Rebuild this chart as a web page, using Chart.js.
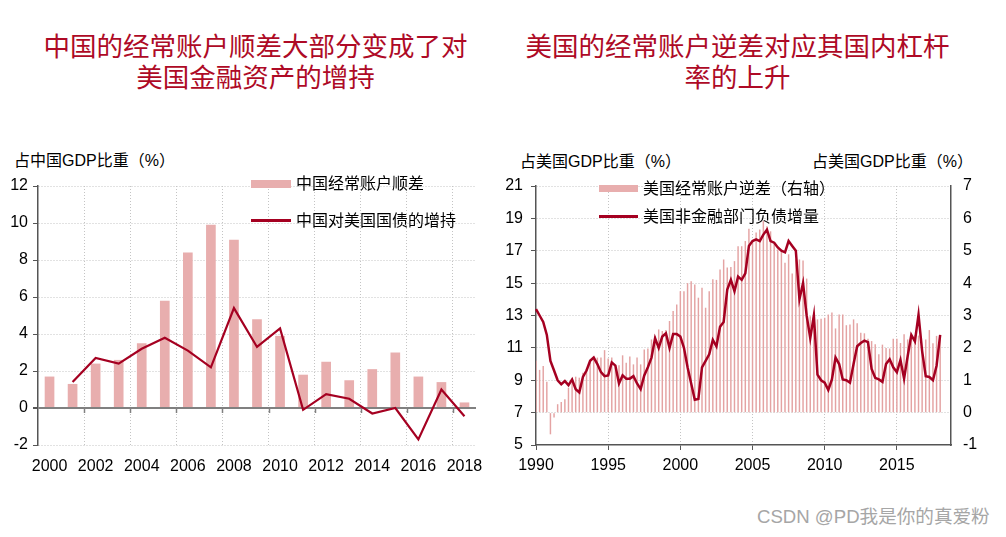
<!DOCTYPE html>
<html>
<head>
<meta charset="utf-8">
<script src="https://cdn.jsdelivr.net/npm/chart.js@4.4.0/dist/chart.umd.min.js"></script>
<style>
    body { margin: 0; width: 1006px; height: 537px; background: #fff; position: relative; overflow: hidden;
           font-family: "Liberation Sans", "Noto Sans CJK SC", sans-serif; color: #000; }
    .abs { position: absolute; white-space: nowrap; }
    .title { color: #ae0a26; font-family: "Noto Sans CJK SC", sans-serif; font-size: 26.5px; line-height: 31px; text-align: center; }
    .unit { font-size: 16px; line-height: 20px; }
    .legend { font-size: 16px; line-height: 20px; }
    .swatch-bar { background: #e8aeae; }
    .swatch-line { background: #a50021; }
    canvas { position: absolute; }
</style>
</head>
<body>
<div class="abs title" style="left:0;width:511px;top:29px;">中国的经常账户顺差大部分变成了对<br>美国金融资产的增持</div>
<div class="abs title" style="left:469px;width:537px;top:29px;">美国的经常账户逆差对应其国内杠杆<br>率的上升</div>

<div class="abs unit" style="left:14px;top:151px;">占中国GDP比重（%）</div>
<div class="abs unit" style="left:520px;top:152px;">占美国GDP比重（%）</div>
<div class="abs unit" style="left:812px;top:152px;">占美国GDP比重（%）</div>

<canvas id="cnChart" width="500" height="340" style="left:0;top:150px;"></canvas>
<canvas id="usChart" width="506" height="340" style="left:500px;top:150px;"></canvas>

<div class="abs swatch-bar" style="left:251px;top:180px;width:40px;height:8px;"></div>
<div class="abs legend" style="left:296px;top:174px;">中国经常账户顺差</div>
<div class="abs swatch-line" style="left:251px;top:219px;width:40px;height:2.5px;"></div>
<div class="abs legend" style="left:296px;top:211px;">中国对美国国债的增持</div>

<div class="abs swatch-bar" style="left:599px;top:185px;width:39px;height:7px;"></div>
<div class="abs legend" style="left:643px;top:179px;">美国经常账户逆差（右轴）</div>
<div class="abs swatch-line" style="left:599px;top:215px;width:39px;height:2.5px;"></div>
<div class="abs legend" style="left:643px;top:207px;">美国非金融部门负债增量</div>

<div class="abs" style="left:757px;top:505px;font-size:18.6px;line-height:24px;color:#a6a6a6;">CSDN @PD我是你的真爱粉</div>

<script>
// ---- left chart data: China, % of China GDP ----
const cnYears = ['2000', '2001', '2002', '2003', '2004', '2005', '2006', '2007', '2008', '2009',
                 '2010', '2011', '2012', '2013', '2014', '2015', '2016', '2017', '2018'];
const cnCurrentAccount = [1.7, 1.3, 2.4, 2.6, 3.5, 5.8, 8.4, 9.9, 9.1, 4.8,
                          3.9, 1.8, 2.5, 1.5, 2.1, 3.0, 1.7, 1.4, 0.3];
const cnTreasuryIncrease = [null, 1.4, 2.7, 2.4, 3.2, 3.8, 3.1, 2.2, 5.4, 3.3,
                            4.3, -0.1, 0.75, 0.5, -0.3, 0.0, -1.7, 1.0, -0.45];

// ---- right chart data: US, quarterly from 1990Q1, % of US GDP ----
const usFirstYear = 1990;
const usLastYear = 2018;
const usCurrentAccountDeficit = [
    1.6, 1.32, 1.44, 0.95, -0.67, -0.15, 0.26, 0.33, 0.41, 0.77,
    0.93, 1.11, 1.08, 1.23, 1.34, 1.54, 1.65, 1.7, 1.7, 1.93,
    1.67, 1.7, 1.39, 1.46, 1.77, 1.54, 1.73, 1.49, 1.7, 1.49,
    1.95, 1.98, 2.26, 2.37, 2.57, 2.52, 2.55, 2.83, 3.14, 3.34,
    3.75, 3.75, 4.0, 4.06, 3.96, 3.55, 3.86, 3.24, 3.75, 4.12,
    4.1, 4.42, 4.73, 4.48, 4.5, 4.68, 5.14, 5.14, 5.3, 5.68,
    5.3, 5.56, 5.66, 5.92, 5.76, 5.6, 5.2, 5.04, 4.99, 4.63,
    4.89, 4.3, 4.73, 4.73, 4.7, 4.14, 2.98, 2.73, 2.88, 2.9,
    2.93, 3.03, 3.09, 2.6, 3.03, 3.03, 2.7, 2.72, 2.88, 2.76,
    2.47, 2.45, 2.28, 2.21, 2.11, 1.8, 2.1, 2.0, 1.98, 2.28,
    2.28, 2.15, 2.42, 2.26, 2.37, 2.39, 2.38, 2.0, 2.26, 2.55,
    2.14, 2.37, 2.4
];
const usNonfinDebtIncrease = [
    13.4, 13.0, 12.6, 11.8, 10.2, 9.6, 9.0, 8.75, 8.95, 8.7,
    9.05, 8.45, 8.25, 9.2, 9.6, 10.2, 10.4, 10.0, 9.5, 9.25,
    9.3, 10.1, 9.9, 8.8, 9.3, 9.1, 9.1, 9.25, 8.8, 8.45,
    9.3, 9.8, 10.4, 11.6, 11.0, 11.7, 11.9, 11.0, 11.85, 11.85,
    11.7, 11.0, 9.8, 8.8, 7.8, 7.85, 9.8, 10.2, 10.6, 11.5,
    11.1, 12.3, 12.6, 14.6, 15.2, 14.5, 15.4, 15.2, 15.6, 17.3,
    17.6, 17.7, 17.6, 18.0, 18.3, 17.6, 17.5, 17.2, 17.0, 16.9,
    17.6, 17.3, 17.0, 14.0, 15.0, 13.0, 11.6, 13.0, 9.35, 9.0,
    8.85, 8.4, 9.05, 10.4, 10.0, 9.05, 9.0, 8.85, 10.0, 11.1,
    11.3, 11.45, 11.35, 9.7, 9.15, 9.05, 8.9, 10.0, 10.3, 9.8,
    9.5, 10.25, 9.1, 10.5, 11.8, 11.4, 13.05, 10.8, 9.25, 9.2,
    9.0, 9.9, 11.8
];

// quarter labels for the category axis
const usQuarters = [];
for (let y = usFirstYear; y <= usLastYear; y++) {
    for (let q = 1; q <= 4; q++) usQuarters.push(y + 'Q' + q);
}

const barColor = '#e8aeae';
const lineColor = '#a50021';
const gridColor = '#c4c4c4';
const axisColor = '#555555';
const none = 'rgba(0,0,0,0)';

Chart.defaults.font.family = '"Liberation Sans", Arial, sans-serif';
Chart.defaults.font.size = 16;
Chart.defaults.color = '#000';

// small ticks hanging below the zero line (left chart)
const zeroLineTicks = {
    id: 'zeroLineTicks',
    beforeDatasetsDraw(chart) {
        const x = chart.scales.x;
        const y0 = chart.scales.y.getPixelForValue(0);
        const ctx = chart.ctx;
        ctx.save();
        ctx.strokeStyle = '#808080';
        ctx.lineWidth = 1.5;
        for (let i = 2; i < cnYears.length; i += 2) {
            const px = Math.round((x.getPixelForValue(i - 1) + x.getPixelForValue(i)) / 2) + 0.5;
            ctx.beginPath();
            ctx.moveTo(px, y0);
            ctx.lineTo(px, y0 + 5);
            ctx.stroke();
        }
        ctx.restore();
    }
};

new Chart(document.getElementById('cnChart'), {
    type: 'bar',
    data: {
        labels: cnYears,
        datasets: [
            {
                type: 'line',
                label: '中国对美国国债的增持',
                data: cnTreasuryIncrease,
                borderColor: lineColor,
                borderWidth: 2.2,
                pointRadius: 0,
                tension: 0,
                order: 1
            },
            {
                type: 'bar',
                label: '中国经常账户顺差',
                data: cnCurrentAccount,
                backgroundColor: barColor,
                barPercentage: 0.42,
                categoryPercentage: 1,
                order: 2
            }
        ]
    },
    options: {
        responsive: false,
        animation: false,
        events: [],
        layout: { padding: { top: 36, right: 24, left: 0, bottom: 0 } },
        plugins: { legend: { display: false }, tooltip: { enabled: false } },
        scales: {
            x: {
                offset: true,
                afterFit: s => { s.height = 45; },
                border: { display: false, dash: [1, 2] },
                grid: {
                    offset: true,
                    drawTicks: false,
                    color: ctx => (ctx.index % 2 === 0 && ctx.index >= 2 && ctx.index < cnYears.length) ? gridColor : none
                },
                ticks: {
                    autoSkip: false,
                    maxRotation: 0,
                    padding: 12,
                    callback: (v, i) => (i % 2 === 0 ? cnYears[i] : '')
                }
            },
            y: {
                min: -2,
                max: 12,
                afterFit: s => { s.width = 38; },
                border: {
                    display: true, color: axisColor, width: 1.5,
                    dash: ctx => (ctx.tick && ctx.tick.value === 0 ? [] : [1, 2])
                },
                grid: {
                    color: ctx => (ctx.tick && ctx.tick.value === 0 ? '#808080' : gridColor),
                    lineWidth: ctx => (ctx.tick && ctx.tick.value === 0 ? 2 : 1),
                    tickColor: axisColor,
                    tickLength: 5
                },
                ticks: { stepSize: 2, padding: 5 }
            }
        }
    },
    plugins: [zeroLineTicks]
});

new Chart(document.getElementById('usChart'), {
    type: 'bar',
    data: {
        labels: usQuarters,
        datasets: [
            {
                type: 'line',
                label: '美国非金融部门负债增量',
                data: usNonfinDebtIncrease,
                yAxisID: 'y',
                borderColor: lineColor,
                borderWidth: 2.5,
                pointRadius: 0,
                tension: 0,
                order: 1
            },
            {
                type: 'bar',
                label: '美国经常账户逆差（右轴）',
                data: usCurrentAccountDeficit,
                yAxisID: 'y1',
                backgroundColor: '#e4a3a3',
                barPercentage: 0.9,
                categoryPercentage: 0.45,
                order: 2
            }
        ]
    },
    options: {
        responsive: false,
        animation: false,
        events: [],
        layout: { padding: { top: 36, right: 0, left: 0, bottom: 0 } },
        plugins: { legend: { display: false }, tooltip: { enabled: false } },
        scales: {
            x: {
                offset: false,
                afterFit: s => { s.height = 45; },
                border: { display: true, color: axisColor, width: 1.5, dash: [1, 2] },
                grid: {
                    offset: false,
                    color: ctx => (ctx.index % 20 === 0 && ctx.index > 0) ? gridColor : none,
                    tickColor: ctx => (ctx.index % 20 === 0 ? axisColor : none),
                    tickLength: 5
                },
                ticks: {
                    autoSkip: false,
                    maxRotation: 0,
                    padding: 6,
                    callback: (v, i) => (i % 20 === 0 ? usQuarters[i].slice(0, 4) : '')
                }
            },
            y: {
                position: 'left',
                min: 5,
                max: 21,
                afterFit: s => { s.width = 36; },
                border: { display: true, color: axisColor, width: 1.5, dash: [1, 2] },
                grid: {
                    color: ctx => (ctx.tick && ctx.tick.value === 5 ? none : gridColor),
                    tickColor: axisColor,
                    tickLength: 5
                },
                ticks: { stepSize: 2, padding: 8 }
            },
            y1: {
                position: 'right',
                min: -1,
                max: 7,
                afterFit: s => { s.width = 55; },
                border: { display: true, color: axisColor, width: 1.5 },
                grid: { drawOnChartArea: false, drawTicks: false },
                ticks: { stepSize: 1, padding: 12 }
            }
        }
    }
});
</script>
</body>
</html>
